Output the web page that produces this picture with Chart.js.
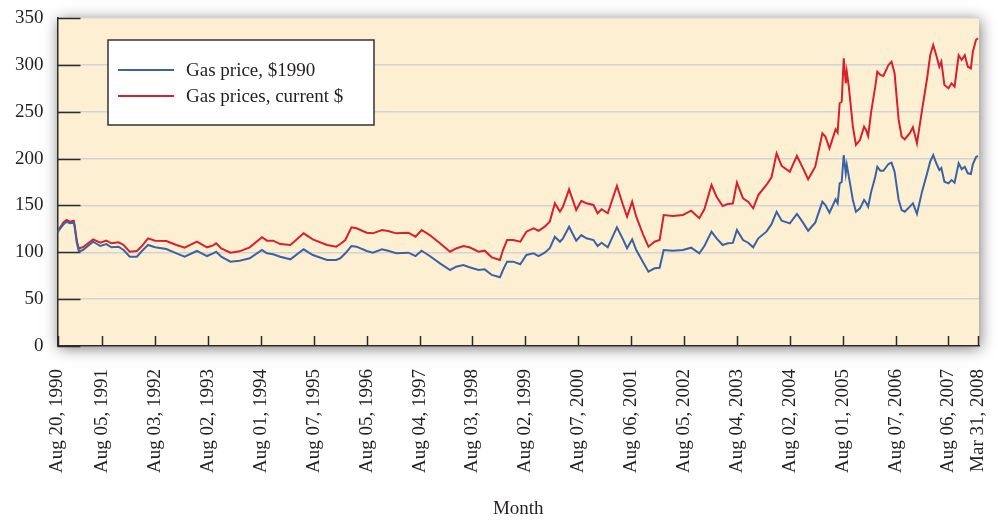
<!DOCTYPE html>
<html>
<head>
<meta charset="utf-8">
<script src="https://cdn.jsdelivr.net/npm/chart.js@4.4.1/dist/chart.umd.min.js"></script>
<style>
  html, body { margin: 0; padding: 0; background: #ffffff; }
  #wrap { width: 998px; height: 521px; }
</style>
</head>
<body>
<div id="wrap"><canvas id="gas" width="998" height="521"></canvas></div>
<script>
// Weekly retail gasoline prices (cents per gallon), Aug 1990 - Mar 2008.
// x = week number counted from the first observation (Aug 20, 1990).
const weekIndex = [0,2,6,9,12,16,17,19,21,25,35,42,48,53,60,65,71,78,83,89,96,107,117,125,137,147,153,156,161,170,179,189,201,206,212,219,229,242,251,265,274,278,283,289,294,304,310,319,325,333,345,352,358,366,376,386,392,399,405,414,420,427,435,438,442,448,455,461,468,473,479,484,489,494,497,503,510,515,520,527,531,535,541,550,556,560,565,569,576,581,587,592,596,605,615,623,631,636,643,648,654,659,664,668,674,679,684,689,697,702,707,712,720,727,733,738,745,752,755,759,765,767,769,771,773,775,776,778,782,785,789,793,795,797,800,804,806,809,812,817,820,823,827,830,833,838,841,843,845,850,855,858,861,864,867,869,872,876,879,882,886,889,892,895,898,900,903,905];

// Price deflated to 1990 dollars
const price1990 = [121,124.5,130,132.7,131,131.6,126,110,101,102.4,111.3,106.7,108.8,105.3,106,102.4,95.3,95.3,101.4,107.8,105.3,103.5,98.9,95.3,101.4,96,98.9,100.5,95.3,90,91,93.6,102.4,98.9,97.8,95.3,92.5,103.2,97.1,91.8,91.8,93.6,98.9,106.7,106,101.4,99.6,103.2,101.7,98.9,99.6,96,101.7,96,88.2,81.1,84.6,86.4,84,81.1,81.8,75.8,73.3,81.1,90,90,87.2,97.1,98.9,96,99.6,104.3,116.6,111.3,114.9,127.3,112.4,118.4,114.9,113.1,106.7,110.2,105.3,126.6,113.8,104.3,113.8,102.4,88.9,79.3,82.9,83.5,102.4,101.7,102.4,104.9,98.9,106.7,122,114.9,107.8,109.6,110,123.8,113.1,110.2,105.3,114.9,122,130,143.3,133.7,130.9,140.9,131.6,123,131.6,154,150.5,142.3,156.5,152.3,173.6,175,203.8,184.3,193.2,180.7,155.8,143.3,146.9,155.8,152.9,148.7,164.7,180.7,191.3,187.1,187,194.2,195.6,186,155.8,145.1,143.3,148.7,152.3,146.5,140.9,164.7,184.3,196.7,203.8,195,187.8,190,175.3,173.6,177.1,174.3,195,188.6,191.3,184.3,183.5,194.2,201.4,202.8];

// Price in current dollars
const priceCurrent = [123,125.6,132,134.5,132.7,133.7,128,112,104,105.4,113.8,110.2,112.4,109.6,110.7,107.8,100.6,101.4,106.7,114.9,112.4,112,107.8,104.9,111.3,105.3,107.4,109.5,104.1,99.6,101,105.3,116,112.4,112.4,108.8,107.8,120.2,113.8,107.8,106,108.8,113.1,126.6,125.6,120.9,120.2,123.8,122.7,120.2,120.9,116.6,123.8,118.4,109.6,100.6,104.1,106.7,105.3,100.6,101.7,94.6,91.8,102.4,113.1,113.1,111.3,122,125.6,123,127.3,132.7,152.3,143.4,148.7,167.2,145.1,155,152.3,150.5,141.6,145.9,141.6,170.7,150.5,138,154,138,118.4,106,111.3,113.1,139.8,138.7,139.8,144.4,136.3,145.9,171.8,159.3,149.4,151.5,152,174.3,157.6,154,146.9,161.1,171.8,180,205.6,192.1,186,202.8,189.6,177.9,191.3,227,223.4,211,231.2,227.7,259,260.7,307,280.3,292.7,276.7,234,214.5,219.8,234,230.5,224.1,250,276.7,292.7,289.2,288.1,299.9,303.4,291,241.2,223.4,220.6,227,233.4,225.2,216.3,251.8,285.7,310.2,321.2,310.2,298,303.4,278.5,275,280.3,276.7,310.2,305.2,310.2,298,296.3,314,326.5,328.4];

// Labelled weeks on the time axis
const tickWeeks = [0,44,96,148,200,252,304,356,408,460,512,564,616,668,720,772,824,876,905];
const tickLabels = ["Aug 20, 1990","Aug 05, 1991","Aug 03, 1992","Aug 02, 1993","Aug 01, 1994","Aug 07, 1995","Aug 05, 1996","Aug 04, 1997","Aug 03, 1998","Aug 02, 1999","Aug 07, 2000","Aug 06, 2001","Aug 05, 2002","Aug 04, 2003","Aug 02, 2004","Aug 01, 2005","Aug 07, 2006","Aug 06, 2007","Mar 31, 2008"];

const seriesNames = ["Gas price, $1990", "Gas prices, current $"];

const FONT = "'Liberation Serif', 'Times New Roman', serif";
const INK = '#231f20';
const PLOT_BG = '#fdf0d2';
const BLUE = '#3b62a6';
const RED = '#d8202c';

const toPoints = (vals) => vals.map((v, i) => ({ x: weekIndex[i], y: v }));

// Cream plot panel with a soft drop shadow, inward tick marks and a boxed legend
const frame = {
  id: 'frame',
  beforeDraw(chart) {
    const { ctx, chartArea: a } = chart;
    ctx.save();
    ctx.fillStyle = '#ffffff';
    ctx.fillRect(0, 0, chart.width, chart.height);
    ctx.shadowColor = 'rgba(0,0,0,0.55)';
    ctx.shadowBlur = 14;
    ctx.shadowOffsetX = 1;
    ctx.shadowOffsetY = 2;
    ctx.fillStyle = PLOT_BG;
    ctx.fillRect(a.left, a.top, a.right - a.left, a.bottom - a.top);
    ctx.restore();
  },
  beforeDatasetsDraw(chart) {
    const { ctx, chartArea: a, scales: { x, y } } = chart;
    ctx.save();
    ctx.strokeStyle = '#2b2b2b';
    ctx.lineWidth = 1.5;
    y.ticks.forEach(t => {
      const py = Math.round(y.getPixelForValue(t.value)) + 0.5;
      ctx.beginPath(); ctx.moveTo(a.left, py); ctx.lineTo(a.left + 23, py); ctx.stroke();
    });
    x.ticks.forEach(t => {
      const px = Math.round(x.getPixelForValue(t.value)) + 0.5;
      ctx.beginPath(); ctx.moveTo(px, a.bottom); ctx.lineTo(px, a.bottom - 10); ctx.stroke();
    });
    ctx.restore();
  },
  afterDraw(chart) {
    const { ctx } = chart;
    const bx = 108, by = 40, bw = 266, bh = 85;
    ctx.save();
    ctx.fillStyle = '#ffffff';
    ctx.fillRect(bx, by, bw, bh);
    ctx.strokeStyle = '#333333';
    ctx.lineWidth = 1.5;
    ctx.strokeRect(bx, by, bw, bh);
    ctx.font = '19px ' + FONT;
    ctx.textBaseline = 'middle';
    ctx.fillStyle = INK;
    chart.data.datasets.forEach((ds, i) => {
      const ly = 70 + i * 26;
      ctx.strokeStyle = ds.borderColor;
      ctx.lineWidth = 2;
      ctx.beginPath(); ctx.moveTo(118, ly); ctx.lineTo(174, ly); ctx.stroke();
      ctx.fillText(ds.label, 186, ly + 1);
    });
    ctx.restore();
  }
};

new Chart(document.getElementById('gas'), {
  type: 'line',
  data: {
    datasets: [
      { label: seriesNames[0], data: toPoints(price1990), borderColor: BLUE, borderWidth: 2, pointRadius: 0, tension: 0, fill: false },
      { label: seriesNames[1], data: toPoints(priceCurrent), borderColor: RED, borderWidth: 2, pointRadius: 0, tension: 0, fill: false }
    ]
  },
  options: {
    responsive: false,
    animation: false,
    devicePixelRatio: 1,
    layout: { padding: { top: 18, right: 19, left: 0, bottom: 0 } },
    plugins: { legend: { display: false }, tooltip: { enabled: false } },
    scales: {
      x: {
        type: 'linear',
        min: 0,
        max: 906,
        afterBuildTicks(scale) { scale.ticks = tickWeeks.map(v => ({ value: v })); },
        afterFit(scale) {
          scale.height = 175;
          scale.paddingLeft = 0;
          scale.paddingRight = 0;
        },
        grid: { display: false, drawTicks: false },
        border: { display: true, color: '#2b2b2b', width: 1.5 },
        ticks: {
          autoSkip: false,
          minRotation: 90,
          maxRotation: 90,
          padding: 23,
          color: INK,
          font: { family: FONT, size: 19 },
          callback: (value, index) => tickLabels[index]
        },
        title: {
          display: true,
          text: 'Month',
          color: INK,
          font: { family: FONT, size: 19 },
          padding: { top: 0, bottom: 1 }
        }
      },
      y: {
        min: 0,
        max: 350,
        afterFit(scale) {
          scale.width = 57.5;
          scale.paddingTop = 0;
          scale.paddingBottom = 0;
        },
        grid: { color: '#d3d3d6', lineWidth: 1.5, drawTicks: false },
        border: { display: true, color: '#2b2b2b', width: 1.5 },
        ticks: {
          stepSize: 50,
          padding: 14,
          color: INK,
          font: { family: FONT, size: 19 }
        }
      }
    }
  },
  plugins: [frame]
});
</script>
</body>
</html>
